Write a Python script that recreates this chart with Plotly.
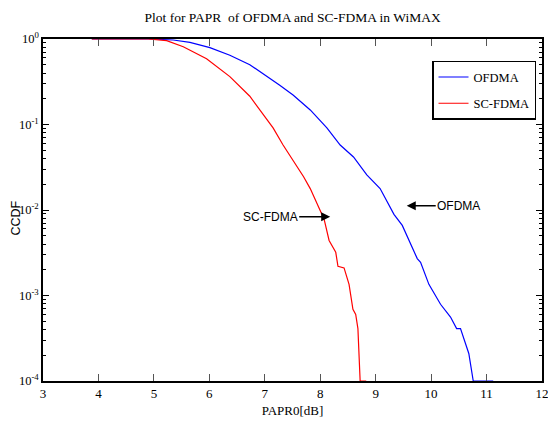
import plotly.graph_objects as go

# ---- data ----
ofdma_x = [3.88, 4.90, 5.35, 5.65, 6.01, 6.37, 6.73, 6.91, 7.07, 7.27, 7.51, 7.82,
           8.12, 8.36, 8.60, 8.84, 9.08, 9.23, 9.33, 9.48, 9.75, 9.81, 9.96, 10.17,
           10.35, 10.46, 10.53, 10.68, 10.76, 11.12]
ofdma_y = [1.0, 1.0, 0.973, 0.912, 0.794, 0.646, 0.501, 0.417, 0.355, 0.288, 0.221, 0.148,
           0.0912, 0.0575, 0.0417, 0.0257, 0.0178, 0.0115, 0.0089, 0.0066, 0.0027, 0.00245,
           0.00135, 0.00079, 0.00056, 0.00041, 0.00041, 0.00021, 0.0001, 0.0001]

scfdma_x = [3.88, 4.90, 5.23, 5.53, 5.95, 6.37, 6.73, 6.91, 7.15, 7.33, 7.51, 7.70,
            7.82, 7.97, 8.07, 8.16, 8.28, 8.32, 8.43, 8.52, 8.59, 8.64, 8.68, 8.72, 8.83]
scfdma_y = [1.0, 1.0, 0.955, 0.813, 0.589, 0.363, 0.214, 0.148, 0.0912, 0.0575, 0.0385, 0.0245,
            0.0178, 0.011, 0.0078, 0.0044, 0.0032, 0.0022, 0.0021, 0.00135, 0.00069, 0.0006,
            0.00041, 0.0001, 0.0001]

x_ticks = [3, 4, 5, 6, 7, 8, 9, 10, 11, 12]
y_ticks = [1e-4, 1e-3, 1e-2, 1e-1, 1e0]
y_ticktext = ["10<sup>-4</sup>", "10<sup>-3</sup>", "10<sup>-2</sup>", "10<sup>-1</sup>", "10<sup>0</sup>"]
y_minor = [m * 10 ** e for e in range(-4, 0) for m in range(2, 10)]

title_text = "Plot for PAPR  of OFDMA and SC-FDMA in WiMAX"
x_title = "PAPR0[dB]"
y_title = "CCDF"

serif = "Liberation Serif, Times New Roman, serif"
sans = "Liberation Sans, Arial, sans-serif"

fig = go.Figure()
fig.add_trace(go.Scatter(x=ofdma_x, y=ofdma_y, mode="lines", name="OFDMA",
                         legendgroup="a", line=dict(color="#0000FF", width=1.2)))
fig.add_trace(go.Scatter(x=scfdma_x, y=scfdma_y, mode="lines", name="SC-FDMA",
                         legendgroup="b", line=dict(color="#FF0000", width=1.2)))

fig.update_layout(
    width=548, height=427,
    margin=dict(l=43, r=6, t=39, b=46, autoexpand=False),
    paper_bgcolor="white", plot_bgcolor="white",
    title=dict(text=title_text, x=0.534, xanchor="center", y=0.96, yanchor="middle",
               font=dict(family=serif, size=13.5, color="black")),
    showlegend=True,
    legend=dict(x=0.988, xanchor="right", y=0.936, yanchor="top",
                bgcolor="white", bordercolor="black", borderwidth=1.5,
                font=dict(family=serif, size=12.5, color="black"),
                tracegroupgap=7, itemwidth=30),
    xaxis=dict(range=[3, 12], tickmode="array", tickvals=x_ticks, automargin=False,
               ticklabeloverflow="allow",
               ticks="inside", ticklen=7, tickcolor="#555555", tickwidth=1,
               showline=True, linecolor="black", linewidth=1.5, mirror="allticks",
               showgrid=False, zeroline=False,
               tickfont=dict(family=serif, size=13, color="black"),
               title=dict(text=x_title, standoff=6,
                          font=dict(family=serif, size=13, color="black"))),
    yaxis=dict(type="log", range=[-4, 0], tickmode="array", tickvals=y_ticks,
               ticktext=y_ticktext, automargin=False, ticklabeloverflow="allow",
               ticks="inside", ticklen=6, tickcolor="black", tickwidth=1,
               minor=dict(tickmode="array", tickvals=y_minor, ticks="inside",
                          ticklen=3, tickcolor="black", tickwidth=1),
               showline=True, linecolor="black", linewidth=1.5, mirror="allticks",
               showgrid=False, zeroline=False,
               tickfont=dict(family=serif, size=12.5, color="black")),
    annotations=[
        dict(x=-0.056, y=0.475, xref="paper", yref="paper", text=y_title, showarrow=False,
             xanchor="center", yanchor="middle",
             textangle=-90, font=dict(family=sans, size=12.5, color="black")),
        dict(x=8.18, y=-2.08, xref="x", yref="y", text="SC-FDMA", showarrow=True,
             ax=-60, ay=0, arrowhead=2, arrowsize=1.2, arrowwidth=1.5, arrowcolor="black",
             font=dict(family=sans, size=12, color="black")),
        dict(x=9.56, y=-1.95, xref="x", yref="y", text="OFDMA", showarrow=True,
             ax=52, ay=0, arrowhead=2, arrowsize=1.2, arrowwidth=1.5, arrowcolor="black",
             font=dict(family=sans, size=12, color="black")),
    ],
)

fig.write_html("out.html", config={"displayModeBar": False},
               post_script="document.body.style.margin='0';document.body.style.overflow='hidden';")
